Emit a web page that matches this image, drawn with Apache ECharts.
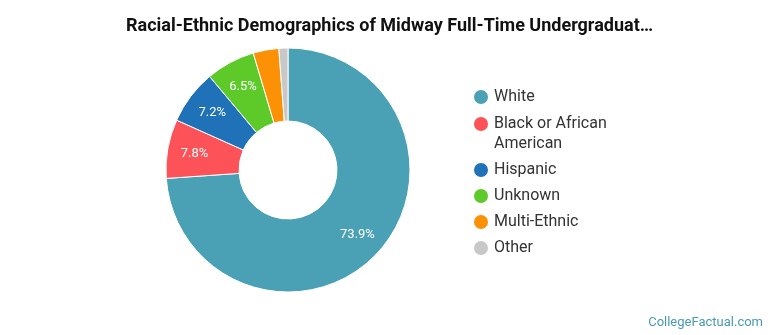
<!DOCTYPE html>
<html>
<head>
<meta charset="utf-8">
<script src="https://cdn.jsdelivr.net/npm/echarts@6/dist/echarts.min.js"></script>
<style>
html,body{margin:0;padding:0;background:#fff;}
#c{width:770px;height:335px;}
</style>
</head>
<body>
<div id="c"></div>
<script>
const categories = ['White', 'Black or African American', 'Hispanic', 'Unknown', 'Multi-Ethnic', 'Other'];
const values = [73.9, 7.8, 7.2, 6.5, 3.4, 1.2];
const colors = ['#4aa0b4', '#fd5258', '#1f71b8', '#5dca2a', '#fc9105', '#c8c8c8'];
const titleText = 'Racial-Ethnic Demographics of Midway Full-Time Undergraduat\u2026';
const sourceText = 'CollegeFactual.com';

const data = categories.map((n, i) => ({ name: n, value: values[i], itemStyle: { color: colors[i] } }));
const font = 'Roboto, "Noto Sans", sans-serif';

// wrap long legend names; leading blank line keeps the icon level with the first text line
const legendFormatter = name => name === 'Black or African American' ? '\nBlack or African\nAmerican' : name;

const legendBase = {
  orient: 'vertical', left: 472, padding: 0,
  icon: 'circle', itemWidth: 16, itemHeight: 16, itemGap: 6,
  selectedMode: false,
  formatter: legendFormatter,
  textStyle: { fontFamily: font, fontSize: 16, lineHeight: 20, color: '#333' }
};

const chart = echarts.init(document.getElementById('c'), null, { renderer: 'canvas' });
chart.setOption({
  animation: false,
  title: {
    text: titleText,
    left: 126,
    top: 17,
    padding: 0,
    textStyle: { fontFamily: font, fontWeight: 'bold', fontSize: 18, color: '#111' }
  },
  legend: [
    Object.assign({}, legendBase, { top: 87, data: [categories[0]] }),
    Object.assign({}, legendBase, { top: 94, data: categories.slice(1) })
  ],
  graphic: [{
    type: 'text', right: 7, bottom: 6,
    style: { text: sourceText, fill: '#4a9ab0', font: '13px ' + font }
  }],
  series: [
    {
      type: 'pie',
      center: [288, 170],
      radius: [49, 122],
      startAngle: 90,
      clockwise: true,
      silent: true,
      itemStyle: { borderColor: '#fff', borderWidth: 1 },
      label: { show: false },
      labelLine: { show: false },
      data: data
    },
    {
      type: 'pie',
      center: [288, 170],
      radius: [62, 122],
      startAngle: 90,
      clockwise: true,
      silent: true,
      itemStyle: { color: 'rgba(0,0,0,0)', borderWidth: 0 },
      label: {
        show: true, position: 'inside',
        fontFamily: font, fontSize: 13, color: '#fff',
        formatter: p => p.value >= 5 ? p.value.toFixed(1) + '%' : ''
      },
      labelLine: { show: false },
      data: categories.map((n, i) => ({ name: n, value: values[i] }))
    }
  ]
});
</script>
</body>
</html>
